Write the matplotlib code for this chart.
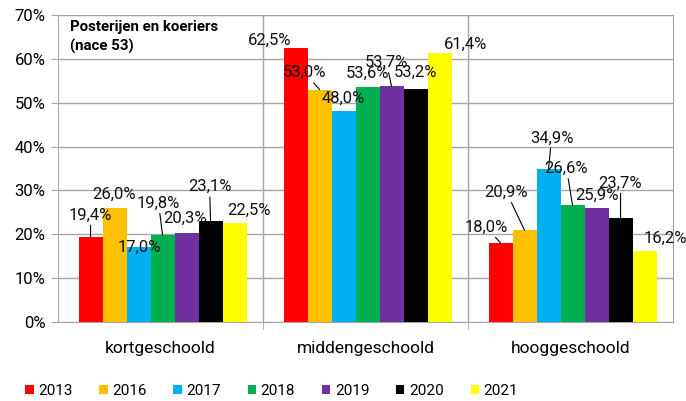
import matplotlib.pyplot as plt
import numpy as np

plt.rcParams['font.family'] = ['Roboto', 'DejaVu Sans']

categories = ['kortgeschoold', 'middengeschoold', 'hooggeschoold']
years = ['2013', '2016', '2017', '2018', '2019', '2020', '2021']
values = {
    '2013': [19.4, 62.5, 18.0],
    '2016': [26.0, 53.0, 20.9],
    '2017': [17.0, 48.0, 34.9],
    '2018': [19.8, 53.6, 26.6],
    '2019': [20.3, 53.7, 25.9],
    '2020': [23.1, 53.2, 23.7],
    '2021': [22.5, 61.4, 16.2],
}
colors = ['#FF0000', '#FFC000', '#00B0F0', '#00B050', '#7030A0', '#000000', '#FFFF00']

# label offsets in pixels from the bar top (dx, dy, leader line)
label_pos = {
    '2013': [(0, 22, True), (-26, 8, False), (-14, 16, True)],
    '2016': [(0, 14, False), (-15, 17, True), (-18, 38, True)],
    '2017': [(1, 0, False), (0, 13, False), (3, 31, True)],
    '2018': [(-4, 32, True), (0, 14, False), (-6, 37, True)],
    '2019': [(-1, 15, False), (-5, 24, True), (0, 13, False)],
    '2020': [(-1, 34, True), (0, 16, False), (0, 35, True)],
    '2021': [(14, 13, False), (26, 8, False), (21, 13, False)],
}

fig = plt.figure(figsize=(6.86, 4.01), dpi=100)
ax = fig.add_axes([58/686, 1-322/401, (673-58)/686, (322-15)/401])

x = np.arange(len(categories))
w = 24/205
for i, yr in enumerate(years):
    xs = x + (i - 3) * w + 0.01
    ax.bar(xs, values[yr], width=w, color=colors[i], label=yr, zorder=3)
    for j in range(len(categories)):
        v = values[yr][j]
        dx, dy, lead = label_pos[yr][j]
        txt = f'{v:.1f}%'.replace('.', ',')
        ap = dict(arrowstyle='-', color='black', lw=0.8, shrinkA=0, shrinkB=0) if lead else None
        ax.annotate(txt, xy=(xs[j], v), xytext=(dx, dy), textcoords='offset pixels',
                    ha='center', va='center', fontsize=12, color='#111111',
                    arrowprops=ap, zorder=5)

ax.set_xlim(-0.5, 2.5)
ax.set_ylim(0, 70)
ax.set_yticks(range(0, 80, 10))
ax.set_yticklabels([f'{t}%' for t in range(0, 80, 10)], fontsize=12)
ax.set_xticks(x)
ax.set_xticklabels(categories, fontsize=12.5)
ax.set_xticks([0.5, 1.5], minor=True)
ax.tick_params(axis='x', which='major', length=0, pad=14)
ax.tick_params(axis='x', which='minor', length=5, color='#a6a6a6')
ax.tick_params(axis='y', length=5, color='#a6a6a6', pad=4)
ax.grid(axis='y', color='#a6a6a6', lw=1, zorder=0)
ax.grid(axis='x', which='minor', color='#a6a6a6', lw=1, zorder=0)
for s in ax.spines.values():
    s.set_color('#a6a6a6')

ax.text(0.02, 0.985, 'Posterijen en koeriers\n(nace 53)', transform=ax.transAxes,
        fontsize=10.8, fontweight='bold', va='top', ha='left', linespacing=1.45)

fig.legend(loc='center left', bbox_to_anchor=(19/686, 1-391/401), ncol=7, frameon=False,
           fontsize=11, handlelength=0.55, handleheight=0.55, handletextpad=0.3,
           columnspacing=1.75, borderaxespad=0)

fig.savefig('out.png', dpi=100)
